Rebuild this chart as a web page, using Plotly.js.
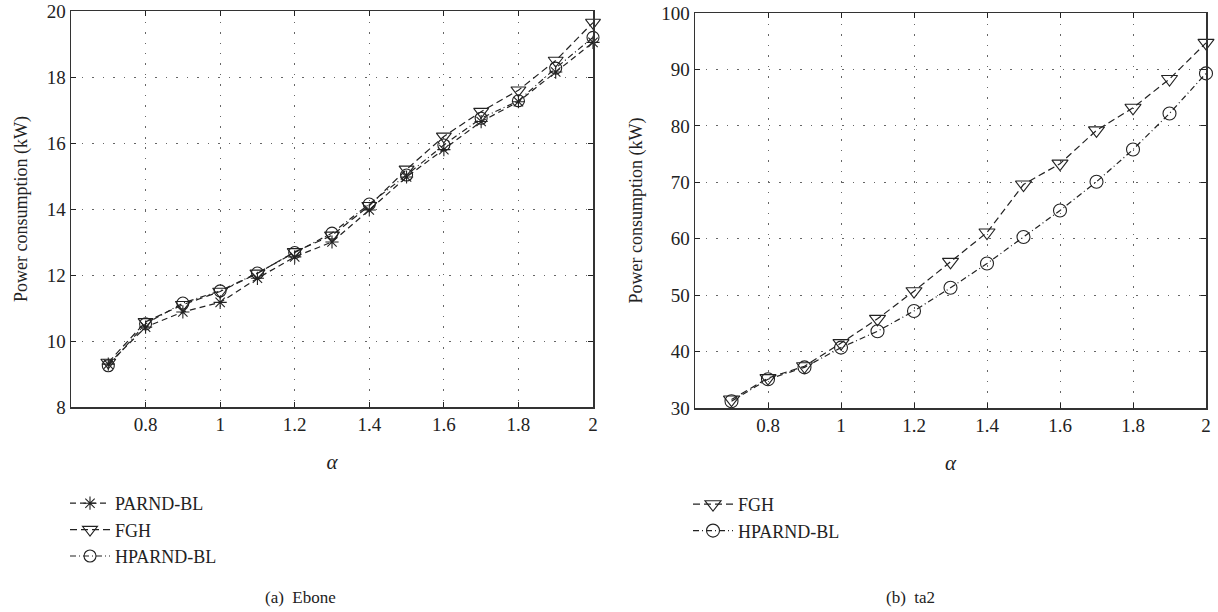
<!DOCTYPE html>
<html>
<head>
<meta charset="utf-8">
<script src="https://cdn.plot.ly/plotly-3.0.1.min.js"></script>
<style>
  html, body { margin: 0; padding: 0; background: #fff; }
  #chart { width: 1218px; height: 612px; }
</style>
</head>
<body>
<div id="chart"></div>
<script>
// ---- data ----
const alpha = [0.7, 0.8, 0.9, 1.0, 1.1, 1.2, 1.3, 1.4, 1.5, 1.6, 1.7, 1.8, 1.9, 2.0];

// (a) Ebone
const eboneParnd  = [9.3, 10.42, 10.88, 11.17, 11.9, 12.55, 13.0, 13.97, 14.97, 15.8, 16.65, 17.25, 18.15, 19.05];
const eboneFgh    = [9.35, 10.58, 11.1, 11.5, 12.05, 12.7, 13.2, 14.1, 15.2, 16.2, 16.95, 17.6, 18.5, 19.65];
const eboneHparnd = [9.25, 10.52, 11.15, 11.52, 12.06, 12.68, 13.27, 14.15, 15.03, 15.94, 16.75, 17.28, 18.27, 19.2];

// (b) ta2
const ta2Fgh    = [31.5, 35.3, 37.4, 41.5, 45.8, 50.7, 55.9, 61.1, 69.6, 73.3, 79.2, 83.2, 88.3, 94.7];
const ta2Hparnd = [31.2, 35.1, 37.2, 40.7, 43.6, 47.2, 51.3, 55.6, 60.3, 65.0, 70.1, 75.8, 82.2, 89.3];

const xTicks = [0.8, 1, 1.2, 1.4, 1.6, 1.8, 2];
const xTickText = ['0.8', '1', '1.2', '1.4', '1.6', '1.8', '2'];
const yTicksA = [8, 10, 12, 14, 16, 18, 20];
const yTicksB = [30, 40, 50, 60, 70, 80, 90, 100];

const names = ['PARND-BL', 'FGH', 'HPARND-BL'];
const captions = ['(a)\u2002Ebone', '(b)\u2002ta2'];

// ---- styling ----
const FONT = 'Liberation Serif, Times New Roman, serif';
const INK = '#222';

function tr(x, y, name, symbol, size, dash, xa, ya, leg) {
  return {
    type: 'scatter', mode: 'lines+markers',
    x: x, y: y, name: name,
    xaxis: xa, yaxis: ya, legend: leg,
    line: { color: INK, width: 1.2, dash: dash },
    marker: { symbol: symbol, size: size, color: INK, line: { color: INK, width: 1.1 } },
    cliponaxis: false
  };
}

const data = [
  tr(alpha, eboneParnd,  names[0], 'asterisk-open',      11, '6px,4px',         'x',  'y',  'legend'),
  tr(alpha, eboneFgh,    names[1], 'triangle-down-open', 13, '7px,4px',         'x',  'y',  'legend'),
  tr(alpha, eboneHparnd, names[2], 'circle-open',        12, '6px,3px,1px,3px', 'x',  'y',  'legend'),
  tr(alpha, ta2Fgh,      names[1], 'triangle-down-open', 14, '7px,4px',         'x2', 'y2', 'legend2'),
  tr(alpha, ta2Hparnd,   names[2], 'circle-open',        13, '6px,3px,1px,3px', 'x2', 'y2', 'legend2')
];

function xaxis(domain, anchor) {
  return {
    domain: domain, anchor: anchor, range: [0.6, 2],
    tickvals: xTicks, ticktext: xTickText,
    ticks: 'inside', ticklen: 5, tickcolor: INK, tickwidth: 1,
    showline: true, linecolor: '#333', linewidth: 1.5, mirror: 'allticks',
    showgrid: true, gridcolor: '#666', gridwidth: 1, griddash: '1.5px,9px',
    zeroline: false,
    tickfont: { family: FONT, size: 19, color: INK },
    title: { text: '<i>α</i>', font: { family: FONT, size: 21, color: INK }, standoff: 20 }
  };
}
function yaxis(domain, anchor, range, ticks) {
  return {
    domain: domain, anchor: anchor, range: range,
    tickvals: ticks,
    ticks: 'inside', ticklen: 5, tickcolor: INK, tickwidth: 1,
    showline: true, linecolor: '#333', linewidth: 1.5, mirror: 'allticks',
    showgrid: true, gridcolor: '#666', gridwidth: 1, griddash: '1.5px,9px',
    zeroline: false,
    tickfont: { family: FONT, size: 19, color: INK },
    title: { text: 'Power consumption (kW)', font: { family: FONT, size: 18, color: INK }, standoff: 14 }
  };
}

function legend(x, y) {
  return {
    x: x, y: y, xanchor: 'left', yanchor: 'top',
    bgcolor: 'rgba(0,0,0,0)', borderwidth: 0,
    font: { family: FONT, size: 18, color: INK },
    itemwidth: 40, tracegroupgap: 0
  };
}

const layout = {
  width: 1218, height: 612,
  margin: { l: 0, r: 0, t: 0, b: 0 },
  paper_bgcolor: '#fff', plot_bgcolor: '#fff',
  showlegend: true,
  xaxis:  xaxis([71 / 1218, 593 / 1218], 'y'),
  yaxis:  yaxis([1 - 407 / 612, 1 - 11 / 612], 'x', [8, 20], yTicksA),
  xaxis2: xaxis([695 / 1218, 1206 / 1218], 'y2'),
  yaxis2: yaxis([1 - 408 / 612, 1 - 13 / 612], 'x2', [30, 100], yTicksB),
  legend:  legend(65 / 1218, 1 - 485 / 612),
  legend2: legend(688 / 1218, 1 - 486 / 612),
  annotations: [
    { text: captions[0], xref: 'paper', yref: 'paper', x: 300 / 1218, y: 1 - 597 / 612,
      xanchor: 'center', yanchor: 'middle', showarrow: false,
      font: { family: FONT, size: 17, color: INK } },
    { text: captions[1], xref: 'paper', yref: 'paper', x: 910 / 1218, y: 1 - 597 / 612,
      xanchor: 'center', yanchor: 'middle', showarrow: false,
      font: { family: FONT, size: 17, color: INK } }
  ]
};

Plotly.newPlot('chart', data, layout, { displayModeBar: false, staticPlot: true });
</script>
</body>
</html>
